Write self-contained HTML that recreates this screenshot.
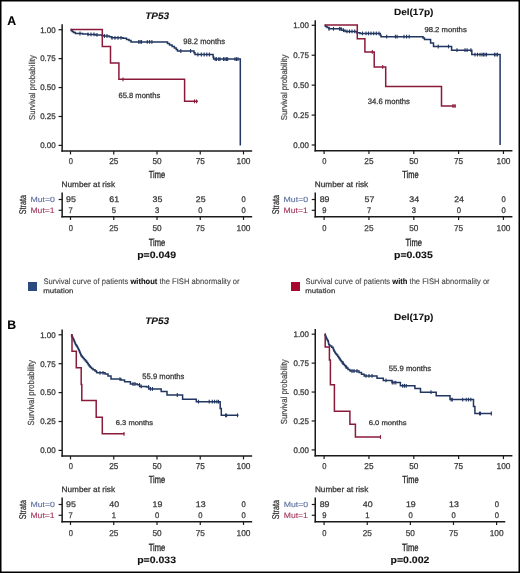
<!DOCTYPE html>
<html><head><meta charset="utf-8"><title>Survival curves</title>
<style>
html,body{margin:0;padding:0;background:#fff;}
body{width:520px;height:573px;overflow:hidden;}
svg{display:block;font-family:"Liberation Sans", sans-serif;will-change:transform;}
</style></head>
<body>
<svg width="520" height="573" viewBox="0 0 520 573" text-rendering="geometricPrecision">
<rect x="0" y="0" width="520" height="573" fill="#fff"/>
<text x="145.20" y="18.71" font-size="9.44" font-weight="bold" font-style="italic" fill="#111" stroke="#111" stroke-width="0.10" textLength="23.90" lengthAdjust="spacingAndGlyphs">TP53</text>
<line x1="62.15" y1="24.20" x2="62.15" y2="151.85" stroke="#1a1a1a" stroke-width="1.5"/>
<line x1="61.40" y1="151.10" x2="252.15" y2="151.10" stroke="#1a1a1a" stroke-width="1.5"/>
<line x1="58.55" y1="29.70" x2="62.15" y2="29.70" stroke="#1a1a1a" stroke-width="1.2"/>
<text x="40.16" y="32.52" font-size="8.17" fill="#3a3a3a" stroke="#3a3a3a" stroke-width="0.28" textLength="15.53" lengthAdjust="spacingAndGlyphs">1.00</text>
<line x1="58.55" y1="58.62" x2="62.15" y2="58.62" stroke="#1a1a1a" stroke-width="1.2"/>
<text x="40.16" y="61.44" font-size="8.17" fill="#3a3a3a" stroke="#3a3a3a" stroke-width="0.28" textLength="15.53" lengthAdjust="spacingAndGlyphs">0.75</text>
<line x1="58.55" y1="87.55" x2="62.15" y2="87.55" stroke="#1a1a1a" stroke-width="1.2"/>
<text x="40.16" y="90.37" font-size="8.17" fill="#3a3a3a" stroke="#3a3a3a" stroke-width="0.28" textLength="15.53" lengthAdjust="spacingAndGlyphs">0.50</text>
<line x1="58.55" y1="116.48" x2="62.15" y2="116.48" stroke="#1a1a1a" stroke-width="1.2"/>
<text x="40.16" y="119.29" font-size="8.17" fill="#3a3a3a" stroke="#3a3a3a" stroke-width="0.28" textLength="15.53" lengthAdjust="spacingAndGlyphs">0.25</text>
<line x1="58.55" y1="145.40" x2="62.15" y2="145.40" stroke="#1a1a1a" stroke-width="1.2"/>
<text x="40.16" y="148.22" font-size="8.17" fill="#3a3a3a" stroke="#3a3a3a" stroke-width="0.28" textLength="15.53" lengthAdjust="spacingAndGlyphs">0.00</text>
<line x1="70.50" y1="151.10" x2="70.50" y2="154.40" stroke="#1a1a1a" stroke-width="1.2"/>
<text x="68.70" y="164.31" font-size="8.59" fill="#3a3a3a" stroke="#3a3a3a" stroke-width="0.25" textLength="4.21" lengthAdjust="spacingAndGlyphs">0</text>
<line x1="113.75" y1="151.10" x2="113.75" y2="154.40" stroke="#1a1a1a" stroke-width="1.2"/>
<text x="109.17" y="164.31" font-size="8.59" fill="#3a3a3a" stroke="#3a3a3a" stroke-width="0.25" textLength="9.18" lengthAdjust="spacingAndGlyphs">25</text>
<line x1="157.00" y1="151.10" x2="157.00" y2="154.40" stroke="#1a1a1a" stroke-width="1.2"/>
<text x="152.42" y="164.31" font-size="8.59" fill="#3a3a3a" stroke="#3a3a3a" stroke-width="0.25" textLength="9.18" lengthAdjust="spacingAndGlyphs">50</text>
<line x1="200.25" y1="151.10" x2="200.25" y2="154.40" stroke="#1a1a1a" stroke-width="1.2"/>
<text x="195.67" y="164.31" font-size="8.59" fill="#3a3a3a" stroke="#3a3a3a" stroke-width="0.25" textLength="9.18" lengthAdjust="spacingAndGlyphs">75</text>
<line x1="243.50" y1="151.10" x2="243.50" y2="154.40" stroke="#1a1a1a" stroke-width="1.2"/>
<text x="236.55" y="164.31" font-size="8.59" fill="#3a3a3a" stroke="#3a3a3a" stroke-width="0.25" textLength="13.93" lengthAdjust="spacingAndGlyphs">100</text>
<text x="148.75" y="177.90" font-size="10.27" fill="#1e1e1e" stroke="#1e1e1e" stroke-width="0.30" textLength="16.29" lengthAdjust="spacingAndGlyphs">Time</text>
<text x="0" y="0" font-size="8.51" fill="#505050" stroke="#505050" stroke-width="0.25" textLength="64.81" lengthAdjust="spacingAndGlyphs" transform="translate(34.51,119.99) rotate(-90)">Survival probability</text>
<path d="M70.60,29.60H71.20V30.60H72.20V31.60H73.50V32.60H75.40V33.50H82.60V33.90H88.00V34.40H95.70V34.90H101.80V35.40H104.00V36.00H109.20V36.80H111.50V37.80H123.00V38.30H126.50V39.50H129.00V40.60H131.00V41.90H167.50V43.60H169.50V45.00H172.10V46.40H174.40V48.00H176.20V49.60H177.50V51.00H194.00V52.80H195.00V54.50H213.10V57.00H213.60V59.10H240.30V145.40" fill="none" stroke="#213660" stroke-width="1.5"/>
<path d="M70.60,29.60H102.30V46.50H110.50V62.90H118.90V79.30H184.60V101.30H197.80V101.30" fill="none" stroke="#8a1a3a" stroke-width="1.5"/>
<line x1="80.00" y1="31.60" x2="80.00" y2="35.40" stroke="#213660" stroke-width="1.1"/>
<line x1="88.00" y1="32.50" x2="88.00" y2="36.30" stroke="#213660" stroke-width="1.1"/>
<line x1="91.00" y1="32.50" x2="91.00" y2="36.30" stroke="#213660" stroke-width="1.1"/>
<line x1="94.00" y1="32.50" x2="94.00" y2="36.30" stroke="#213660" stroke-width="1.1"/>
<line x1="97.00" y1="33.00" x2="97.00" y2="36.80" stroke="#213660" stroke-width="1.1"/>
<line x1="104.50" y1="34.10" x2="104.50" y2="37.90" stroke="#213660" stroke-width="1.1"/>
<line x1="107.00" y1="34.10" x2="107.00" y2="37.90" stroke="#213660" stroke-width="1.1"/>
<line x1="112.00" y1="35.90" x2="112.00" y2="39.70" stroke="#213660" stroke-width="1.1"/>
<line x1="115.00" y1="35.90" x2="115.00" y2="39.70" stroke="#213660" stroke-width="1.1"/>
<line x1="118.00" y1="35.90" x2="118.00" y2="39.70" stroke="#213660" stroke-width="1.1"/>
<line x1="121.00" y1="35.90" x2="121.00" y2="39.70" stroke="#213660" stroke-width="1.1"/>
<line x1="138.70" y1="40.00" x2="138.70" y2="43.80" stroke="#213660" stroke-width="1.1"/>
<line x1="140.10" y1="40.00" x2="140.10" y2="43.80" stroke="#213660" stroke-width="1.1"/>
<line x1="141.50" y1="40.00" x2="141.50" y2="43.80" stroke="#213660" stroke-width="1.1"/>
<line x1="147.30" y1="40.00" x2="147.30" y2="43.80" stroke="#213660" stroke-width="1.1"/>
<line x1="149.60" y1="40.00" x2="149.60" y2="43.80" stroke="#213660" stroke-width="1.1"/>
<line x1="151.90" y1="40.00" x2="151.90" y2="43.80" stroke="#213660" stroke-width="1.1"/>
<line x1="180.80" y1="49.10" x2="180.80" y2="52.90" stroke="#213660" stroke-width="1.1"/>
<line x1="190.60" y1="49.10" x2="190.60" y2="52.90" stroke="#213660" stroke-width="1.1"/>
<line x1="197.90" y1="52.60" x2="197.90" y2="56.40" stroke="#213660" stroke-width="1.1"/>
<line x1="201.30" y1="52.60" x2="201.30" y2="56.40" stroke="#213660" stroke-width="1.1"/>
<line x1="204.20" y1="52.60" x2="204.20" y2="56.40" stroke="#213660" stroke-width="1.1"/>
<line x1="206.80" y1="52.60" x2="206.80" y2="56.40" stroke="#213660" stroke-width="1.1"/>
<line x1="209.40" y1="52.60" x2="209.40" y2="56.40" stroke="#213660" stroke-width="1.1"/>
<line x1="215.20" y1="57.20" x2="215.20" y2="61.00" stroke="#213660" stroke-width="1.1"/>
<line x1="216.50" y1="57.20" x2="216.50" y2="61.00" stroke="#213660" stroke-width="1.1"/>
<line x1="218.70" y1="57.20" x2="218.70" y2="61.00" stroke="#213660" stroke-width="1.1"/>
<line x1="220.00" y1="57.20" x2="220.00" y2="61.00" stroke="#213660" stroke-width="1.1"/>
<line x1="223.50" y1="57.20" x2="223.50" y2="61.00" stroke="#213660" stroke-width="1.1"/>
<line x1="225.00" y1="57.20" x2="225.00" y2="61.00" stroke="#213660" stroke-width="1.1"/>
<line x1="226.50" y1="57.20" x2="226.50" y2="61.00" stroke="#213660" stroke-width="1.1"/>
<line x1="227.70" y1="57.20" x2="227.70" y2="61.00" stroke="#213660" stroke-width="1.1"/>
<line x1="235.00" y1="57.20" x2="235.00" y2="61.00" stroke="#213660" stroke-width="1.1"/>
<line x1="236.50" y1="57.20" x2="236.50" y2="61.00" stroke="#213660" stroke-width="1.1"/>
<line x1="238.00" y1="57.20" x2="238.00" y2="61.00" stroke="#213660" stroke-width="1.1"/>
<line x1="123.00" y1="77.40" x2="123.00" y2="81.20" stroke="#8a1a3a" stroke-width="1.1"/>
<line x1="194.50" y1="99.40" x2="194.50" y2="103.20" stroke="#8a1a3a" stroke-width="1.1"/>
<line x1="196.60" y1="99.40" x2="196.60" y2="103.20" stroke="#8a1a3a" stroke-width="1.1"/>
<text x="183.32" y="44.02" font-size="7.84" fill="#333" stroke="#333" stroke-width="0.25" textLength="41.73" lengthAdjust="spacingAndGlyphs">98.2 months</text>
<text x="118.42" y="97.62" font-size="7.70" fill="#333" stroke="#333" stroke-width="0.25" textLength="41.83" lengthAdjust="spacingAndGlyphs">65.8 months</text>
<text x="61.64" y="186.92" font-size="7.84" fill="#333" stroke="#333" stroke-width="0.25" textLength="53.37" lengthAdjust="spacingAndGlyphs">Number at risk</text>
<line x1="62.15" y1="192.40" x2="62.15" y2="217.55" stroke="#1a1a1a" stroke-width="1.5"/>
<line x1="61.40" y1="216.80" x2="252.15" y2="216.80" stroke="#1a1a1a" stroke-width="1.5"/>
<line x1="58.65" y1="199.50" x2="62.15" y2="199.50" stroke="#1a1a1a" stroke-width="1.2"/>
<line x1="58.65" y1="210.30" x2="62.15" y2="210.30" stroke="#1a1a1a" stroke-width="1.2"/>
<text x="30.40" y="202.02" font-size="7.61" fill="#5d70a0" stroke="#5d70a0" stroke-width="0.12" textLength="24.52" lengthAdjust="spacingAndGlyphs">Mut=0</text>
<text x="30.41" y="212.62" font-size="7.75" fill="#a53a60" stroke="#a53a60" stroke-width="0.12" textLength="24.21" lengthAdjust="spacingAndGlyphs">Mut=1</text>
<text x="0" y="0" font-size="9.86" fill="#333" stroke="#333" stroke-width="0.25" textLength="19.14" lengthAdjust="spacingAndGlyphs" transform="translate(25.60,214.16) rotate(-90)">Strata</text>
<text x="66.06" y="202.02" font-size="8.17" fill="#333" stroke="#333" stroke-width="0.25" textLength="9.81" lengthAdjust="spacingAndGlyphs">95</text>
<text x="68.56" y="212.62" font-size="8.17" fill="#333" stroke="#333" stroke-width="0.25" textLength="4.25" lengthAdjust="spacingAndGlyphs">7</text>
<line x1="70.50" y1="216.80" x2="70.50" y2="219.90" stroke="#1a1a1a" stroke-width="1.2"/>
<text x="68.70" y="231.32" font-size="8.45" fill="#3a3a3a" stroke="#3a3a3a" stroke-width="0.25" textLength="4.21" lengthAdjust="spacingAndGlyphs">0</text>
<text x="109.31" y="202.02" font-size="8.17" fill="#333" stroke="#333" stroke-width="0.25" textLength="9.81" lengthAdjust="spacingAndGlyphs">61</text>
<text x="111.81" y="212.62" font-size="8.17" fill="#333" stroke="#333" stroke-width="0.25" textLength="4.25" lengthAdjust="spacingAndGlyphs">5</text>
<line x1="113.75" y1="216.80" x2="113.75" y2="219.90" stroke="#1a1a1a" stroke-width="1.2"/>
<text x="109.17" y="231.32" font-size="8.45" fill="#3a3a3a" stroke="#3a3a3a" stroke-width="0.25" textLength="9.18" lengthAdjust="spacingAndGlyphs">25</text>
<text x="152.56" y="202.02" font-size="8.17" fill="#333" stroke="#333" stroke-width="0.25" textLength="9.81" lengthAdjust="spacingAndGlyphs">35</text>
<text x="155.06" y="212.62" font-size="8.17" fill="#333" stroke="#333" stroke-width="0.25" textLength="4.25" lengthAdjust="spacingAndGlyphs">3</text>
<line x1="157.00" y1="216.80" x2="157.00" y2="219.90" stroke="#1a1a1a" stroke-width="1.2"/>
<text x="152.42" y="231.32" font-size="8.45" fill="#3a3a3a" stroke="#3a3a3a" stroke-width="0.25" textLength="9.18" lengthAdjust="spacingAndGlyphs">50</text>
<text x="195.81" y="202.02" font-size="8.17" fill="#333" stroke="#333" stroke-width="0.25" textLength="9.81" lengthAdjust="spacingAndGlyphs">25</text>
<text x="198.31" y="212.62" font-size="8.17" fill="#333" stroke="#333" stroke-width="0.25" textLength="4.25" lengthAdjust="spacingAndGlyphs">0</text>
<line x1="200.25" y1="216.80" x2="200.25" y2="219.90" stroke="#1a1a1a" stroke-width="1.2"/>
<text x="195.67" y="231.32" font-size="8.45" fill="#3a3a3a" stroke="#3a3a3a" stroke-width="0.25" textLength="9.18" lengthAdjust="spacingAndGlyphs">75</text>
<text x="241.56" y="202.02" font-size="8.17" fill="#333" stroke="#333" stroke-width="0.25" textLength="4.25" lengthAdjust="spacingAndGlyphs">0</text>
<text x="241.56" y="212.62" font-size="8.17" fill="#333" stroke="#333" stroke-width="0.25" textLength="4.25" lengthAdjust="spacingAndGlyphs">0</text>
<line x1="243.50" y1="216.80" x2="243.50" y2="219.90" stroke="#1a1a1a" stroke-width="1.2"/>
<text x="236.55" y="231.32" font-size="8.45" fill="#3a3a3a" stroke="#3a3a3a" stroke-width="0.25" textLength="13.93" lengthAdjust="spacingAndGlyphs">100</text>
<text x="148.65" y="245.50" font-size="10.41" fill="#1e1e1e" stroke="#1e1e1e" stroke-width="0.30" textLength="16.49" lengthAdjust="spacingAndGlyphs">Time</text>
<text x="137.21" y="257.54" font-size="9.34" font-weight="bold" fill="#111" stroke="#111" stroke-width="0.10" textLength="38.83" lengthAdjust="spacingAndGlyphs">p=0.049</text>
<text x="393.90" y="15.00" font-size="9.04" font-weight="bold" fill="#111" stroke="#111" stroke-width="0.10" textLength="39.56" lengthAdjust="spacingAndGlyphs">Del(17p)</text>
<line x1="315.25" y1="20.20" x2="315.25" y2="151.45" stroke="#1a1a1a" stroke-width="1.5"/>
<line x1="314.50" y1="150.70" x2="512.42" y2="150.70" stroke="#1a1a1a" stroke-width="1.5"/>
<line x1="311.65" y1="25.30" x2="315.25" y2="25.30" stroke="#1a1a1a" stroke-width="1.2"/>
<text x="293.36" y="28.12" font-size="8.17" fill="#3a3a3a" stroke="#3a3a3a" stroke-width="0.28" textLength="15.53" lengthAdjust="spacingAndGlyphs">1.00</text>
<line x1="311.65" y1="55.22" x2="315.25" y2="55.22" stroke="#1a1a1a" stroke-width="1.2"/>
<text x="293.36" y="58.04" font-size="8.17" fill="#3a3a3a" stroke="#3a3a3a" stroke-width="0.28" textLength="15.53" lengthAdjust="spacingAndGlyphs">0.75</text>
<line x1="311.65" y1="85.15" x2="315.25" y2="85.15" stroke="#1a1a1a" stroke-width="1.2"/>
<text x="293.36" y="87.97" font-size="8.17" fill="#3a3a3a" stroke="#3a3a3a" stroke-width="0.28" textLength="15.53" lengthAdjust="spacingAndGlyphs">0.50</text>
<line x1="311.65" y1="115.08" x2="315.25" y2="115.08" stroke="#1a1a1a" stroke-width="1.2"/>
<text x="293.36" y="117.89" font-size="8.17" fill="#3a3a3a" stroke="#3a3a3a" stroke-width="0.28" textLength="15.53" lengthAdjust="spacingAndGlyphs">0.25</text>
<line x1="311.65" y1="145.00" x2="315.25" y2="145.00" stroke="#1a1a1a" stroke-width="1.2"/>
<text x="293.36" y="147.82" font-size="8.17" fill="#3a3a3a" stroke="#3a3a3a" stroke-width="0.28" textLength="15.53" lengthAdjust="spacingAndGlyphs">0.00</text>
<line x1="324.10" y1="150.70" x2="324.10" y2="154.00" stroke="#1a1a1a" stroke-width="1.2"/>
<text x="322.30" y="164.01" font-size="8.59" fill="#3a3a3a" stroke="#3a3a3a" stroke-width="0.25" textLength="4.21" lengthAdjust="spacingAndGlyphs">0</text>
<line x1="368.94" y1="150.70" x2="368.94" y2="154.00" stroke="#1a1a1a" stroke-width="1.2"/>
<text x="364.36" y="164.01" font-size="8.59" fill="#3a3a3a" stroke="#3a3a3a" stroke-width="0.25" textLength="9.18" lengthAdjust="spacingAndGlyphs">25</text>
<line x1="413.78" y1="150.70" x2="413.78" y2="154.00" stroke="#1a1a1a" stroke-width="1.2"/>
<text x="409.19" y="164.01" font-size="8.59" fill="#3a3a3a" stroke="#3a3a3a" stroke-width="0.25" textLength="9.18" lengthAdjust="spacingAndGlyphs">50</text>
<line x1="458.61" y1="150.70" x2="458.61" y2="154.00" stroke="#1a1a1a" stroke-width="1.2"/>
<text x="454.03" y="164.01" font-size="8.59" fill="#3a3a3a" stroke="#3a3a3a" stroke-width="0.25" textLength="9.18" lengthAdjust="spacingAndGlyphs">75</text>
<line x1="503.45" y1="150.70" x2="503.45" y2="154.00" stroke="#1a1a1a" stroke-width="1.2"/>
<text x="496.50" y="164.01" font-size="8.59" fill="#3a3a3a" stroke="#3a3a3a" stroke-width="0.25" textLength="13.93" lengthAdjust="spacingAndGlyphs">100</text>
<text x="402.25" y="177.60" font-size="10.27" fill="#1e1e1e" stroke="#1e1e1e" stroke-width="0.30" textLength="16.29" lengthAdjust="spacingAndGlyphs">Time</text>
<text x="0" y="0" font-size="8.51" fill="#505050" stroke="#505050" stroke-width="0.25" textLength="65.61" lengthAdjust="spacingAndGlyphs" transform="translate(287.01,120.19) rotate(-90)">Survival probability</text>
<path d="M324.50,25.40H325.50V26.50H327.00V27.60H329.00V28.80H341.60V30.20H345.00V31.40H356.60V32.80H360.00V33.40H380.30V35.20H381.00V36.70H423.00V38.00H424.50V39.50H430.60V42.90H433.50V46.50H451.60V50.20H471.80V54.60H500.10V145.00" fill="none" stroke="#213660" stroke-width="1.5"/>
<path d="M324.50,25.00H357.30V38.80H364.90V51.90H374.20V66.90H385.70V86.60H441.50V106.00H455.80V106.00" fill="none" stroke="#8a1a3a" stroke-width="1.5"/>
<line x1="329.00" y1="26.90" x2="329.00" y2="30.70" stroke="#213660" stroke-width="1.1"/>
<line x1="333.50" y1="26.90" x2="333.50" y2="30.70" stroke="#213660" stroke-width="1.1"/>
<line x1="339.50" y1="26.90" x2="339.50" y2="30.70" stroke="#213660" stroke-width="1.1"/>
<line x1="341.00" y1="26.90" x2="341.00" y2="30.70" stroke="#213660" stroke-width="1.1"/>
<line x1="343.50" y1="28.30" x2="343.50" y2="32.10" stroke="#213660" stroke-width="1.1"/>
<line x1="347.00" y1="29.50" x2="347.00" y2="33.30" stroke="#213660" stroke-width="1.1"/>
<line x1="349.50" y1="29.50" x2="349.50" y2="33.30" stroke="#213660" stroke-width="1.1"/>
<line x1="352.00" y1="29.50" x2="352.00" y2="33.30" stroke="#213660" stroke-width="1.1"/>
<line x1="354.70" y1="29.50" x2="354.70" y2="33.30" stroke="#213660" stroke-width="1.1"/>
<line x1="362.50" y1="31.50" x2="362.50" y2="35.30" stroke="#213660" stroke-width="1.1"/>
<line x1="366.00" y1="31.50" x2="366.00" y2="35.30" stroke="#213660" stroke-width="1.1"/>
<line x1="368.50" y1="31.50" x2="368.50" y2="35.30" stroke="#213660" stroke-width="1.1"/>
<line x1="371.00" y1="31.50" x2="371.00" y2="35.30" stroke="#213660" stroke-width="1.1"/>
<line x1="373.70" y1="31.50" x2="373.70" y2="35.30" stroke="#213660" stroke-width="1.1"/>
<line x1="376.30" y1="31.50" x2="376.30" y2="35.30" stroke="#213660" stroke-width="1.1"/>
<line x1="379.00" y1="31.50" x2="379.00" y2="35.30" stroke="#213660" stroke-width="1.1"/>
<line x1="386.70" y1="34.80" x2="386.70" y2="38.60" stroke="#213660" stroke-width="1.1"/>
<line x1="395.40" y1="34.80" x2="395.40" y2="38.60" stroke="#213660" stroke-width="1.1"/>
<line x1="397.10" y1="34.80" x2="397.10" y2="38.60" stroke="#213660" stroke-width="1.1"/>
<line x1="404.00" y1="34.80" x2="404.00" y2="38.60" stroke="#213660" stroke-width="1.1"/>
<line x1="406.60" y1="34.80" x2="406.60" y2="38.60" stroke="#213660" stroke-width="1.1"/>
<line x1="409.20" y1="34.80" x2="409.20" y2="38.60" stroke="#213660" stroke-width="1.1"/>
<line x1="438.20" y1="44.60" x2="438.20" y2="48.40" stroke="#213660" stroke-width="1.1"/>
<line x1="448.50" y1="44.60" x2="448.50" y2="48.40" stroke="#213660" stroke-width="1.1"/>
<line x1="457.00" y1="48.30" x2="457.00" y2="52.10" stroke="#213660" stroke-width="1.1"/>
<line x1="465.00" y1="48.30" x2="465.00" y2="52.10" stroke="#213660" stroke-width="1.1"/>
<line x1="467.10" y1="48.30" x2="467.10" y2="52.10" stroke="#213660" stroke-width="1.1"/>
<line x1="470.90" y1="48.30" x2="470.90" y2="52.10" stroke="#213660" stroke-width="1.1"/>
<line x1="475.00" y1="52.70" x2="475.00" y2="56.50" stroke="#213660" stroke-width="1.1"/>
<line x1="477.50" y1="52.70" x2="477.50" y2="56.50" stroke="#213660" stroke-width="1.1"/>
<line x1="480.00" y1="52.70" x2="480.00" y2="56.50" stroke="#213660" stroke-width="1.1"/>
<line x1="482.00" y1="52.70" x2="482.00" y2="56.50" stroke="#213660" stroke-width="1.1"/>
<line x1="483.50" y1="52.70" x2="483.50" y2="56.50" stroke="#213660" stroke-width="1.1"/>
<line x1="485.00" y1="52.70" x2="485.00" y2="56.50" stroke="#213660" stroke-width="1.1"/>
<line x1="486.50" y1="52.70" x2="486.50" y2="56.50" stroke="#213660" stroke-width="1.1"/>
<line x1="494.50" y1="52.70" x2="494.50" y2="56.50" stroke="#213660" stroke-width="1.1"/>
<line x1="496.00" y1="52.70" x2="496.00" y2="56.50" stroke="#213660" stroke-width="1.1"/>
<line x1="497.50" y1="52.70" x2="497.50" y2="56.50" stroke="#213660" stroke-width="1.1"/>
<line x1="372.30" y1="50.00" x2="372.30" y2="53.80" stroke="#8a1a3a" stroke-width="1.1"/>
<line x1="382.70" y1="65.00" x2="382.70" y2="68.80" stroke="#8a1a3a" stroke-width="1.1"/>
<line x1="453.00" y1="104.10" x2="453.00" y2="107.90" stroke="#8a1a3a" stroke-width="1.1"/>
<line x1="455.00" y1="104.10" x2="455.00" y2="107.90" stroke="#8a1a3a" stroke-width="1.1"/>
<text x="424.42" y="31.93" font-size="7.16" fill="#333" stroke="#333" stroke-width="0.25" textLength="42.34" lengthAdjust="spacingAndGlyphs">98.2 months</text>
<text x="367.82" y="104.22" font-size="7.84" fill="#333" stroke="#333" stroke-width="0.25" textLength="42.14" lengthAdjust="spacingAndGlyphs">34.6 months</text>
<text x="314.84" y="186.92" font-size="7.84" fill="#333" stroke="#333" stroke-width="0.25" textLength="53.37" lengthAdjust="spacingAndGlyphs">Number at risk</text>
<line x1="315.25" y1="192.40" x2="315.25" y2="217.55" stroke="#1a1a1a" stroke-width="1.5"/>
<line x1="314.50" y1="216.80" x2="512.42" y2="216.80" stroke="#1a1a1a" stroke-width="1.5"/>
<line x1="311.75" y1="199.50" x2="315.25" y2="199.50" stroke="#1a1a1a" stroke-width="1.2"/>
<line x1="311.75" y1="210.30" x2="315.25" y2="210.30" stroke="#1a1a1a" stroke-width="1.2"/>
<text x="283.60" y="202.02" font-size="7.61" fill="#5d70a0" stroke="#5d70a0" stroke-width="0.12" textLength="24.52" lengthAdjust="spacingAndGlyphs">Mut=0</text>
<text x="283.61" y="212.62" font-size="7.75" fill="#a53a60" stroke="#a53a60" stroke-width="0.12" textLength="24.21" lengthAdjust="spacingAndGlyphs">Mut=1</text>
<text x="0" y="0" font-size="9.86" fill="#333" stroke="#333" stroke-width="0.25" textLength="19.14" lengthAdjust="spacingAndGlyphs" transform="translate(278.80,214.16) rotate(-90)">Strata</text>
<text x="319.66" y="202.02" font-size="8.17" fill="#333" stroke="#333" stroke-width="0.25" textLength="9.81" lengthAdjust="spacingAndGlyphs">89</text>
<text x="322.16" y="212.62" font-size="8.17" fill="#333" stroke="#333" stroke-width="0.25" textLength="4.25" lengthAdjust="spacingAndGlyphs">9</text>
<line x1="324.10" y1="216.80" x2="324.10" y2="219.90" stroke="#1a1a1a" stroke-width="1.2"/>
<text x="322.30" y="231.32" font-size="8.45" fill="#3a3a3a" stroke="#3a3a3a" stroke-width="0.25" textLength="4.21" lengthAdjust="spacingAndGlyphs">0</text>
<text x="364.50" y="202.02" font-size="8.17" fill="#333" stroke="#333" stroke-width="0.25" textLength="9.81" lengthAdjust="spacingAndGlyphs">57</text>
<text x="367.00" y="212.62" font-size="8.17" fill="#333" stroke="#333" stroke-width="0.25" textLength="4.25" lengthAdjust="spacingAndGlyphs">7</text>
<line x1="368.94" y1="216.80" x2="368.94" y2="219.90" stroke="#1a1a1a" stroke-width="1.2"/>
<text x="364.36" y="231.32" font-size="8.45" fill="#3a3a3a" stroke="#3a3a3a" stroke-width="0.25" textLength="9.18" lengthAdjust="spacingAndGlyphs">25</text>
<text x="409.33" y="202.02" font-size="8.17" fill="#333" stroke="#333" stroke-width="0.25" textLength="9.81" lengthAdjust="spacingAndGlyphs">34</text>
<text x="411.83" y="212.62" font-size="8.17" fill="#333" stroke="#333" stroke-width="0.25" textLength="4.25" lengthAdjust="spacingAndGlyphs">3</text>
<line x1="413.78" y1="216.80" x2="413.78" y2="219.90" stroke="#1a1a1a" stroke-width="1.2"/>
<text x="409.19" y="231.32" font-size="8.45" fill="#3a3a3a" stroke="#3a3a3a" stroke-width="0.25" textLength="9.18" lengthAdjust="spacingAndGlyphs">50</text>
<text x="454.17" y="202.02" font-size="8.17" fill="#333" stroke="#333" stroke-width="0.25" textLength="9.81" lengthAdjust="spacingAndGlyphs">24</text>
<text x="456.67" y="212.62" font-size="8.17" fill="#333" stroke="#333" stroke-width="0.25" textLength="4.25" lengthAdjust="spacingAndGlyphs">0</text>
<line x1="458.61" y1="216.80" x2="458.61" y2="219.90" stroke="#1a1a1a" stroke-width="1.2"/>
<text x="454.03" y="231.32" font-size="8.45" fill="#3a3a3a" stroke="#3a3a3a" stroke-width="0.25" textLength="9.18" lengthAdjust="spacingAndGlyphs">75</text>
<text x="501.51" y="202.02" font-size="8.17" fill="#333" stroke="#333" stroke-width="0.25" textLength="4.25" lengthAdjust="spacingAndGlyphs">0</text>
<text x="501.51" y="212.62" font-size="8.17" fill="#333" stroke="#333" stroke-width="0.25" textLength="4.25" lengthAdjust="spacingAndGlyphs">0</text>
<line x1="503.45" y1="216.80" x2="503.45" y2="219.90" stroke="#1a1a1a" stroke-width="1.2"/>
<text x="496.50" y="231.32" font-size="8.45" fill="#3a3a3a" stroke="#3a3a3a" stroke-width="0.25" textLength="13.93" lengthAdjust="spacingAndGlyphs">100</text>
<text x="405.42" y="245.50" font-size="10.41" fill="#1e1e1e" stroke="#1e1e1e" stroke-width="0.30" textLength="16.49" lengthAdjust="spacingAndGlyphs">Time</text>
<text x="393.99" y="257.54" font-size="9.34" font-weight="bold" fill="#111" stroke="#111" stroke-width="0.10" textLength="38.83" lengthAdjust="spacingAndGlyphs">p=0.035</text>
<text x="145.20" y="323.71" font-size="9.44" font-weight="bold" font-style="italic" fill="#111" stroke="#111" stroke-width="0.10" textLength="23.90" lengthAdjust="spacingAndGlyphs">TP53</text>
<line x1="62.15" y1="329.50" x2="62.15" y2="456.85" stroke="#1a1a1a" stroke-width="1.5"/>
<line x1="61.40" y1="456.10" x2="252.15" y2="456.10" stroke="#1a1a1a" stroke-width="1.5"/>
<line x1="58.55" y1="334.80" x2="62.15" y2="334.80" stroke="#1a1a1a" stroke-width="1.2"/>
<text x="40.16" y="337.62" font-size="8.17" fill="#3a3a3a" stroke="#3a3a3a" stroke-width="0.28" textLength="15.53" lengthAdjust="spacingAndGlyphs">1.00</text>
<line x1="58.55" y1="363.70" x2="62.15" y2="363.70" stroke="#1a1a1a" stroke-width="1.2"/>
<text x="40.16" y="366.52" font-size="8.17" fill="#3a3a3a" stroke="#3a3a3a" stroke-width="0.28" textLength="15.53" lengthAdjust="spacingAndGlyphs">0.75</text>
<line x1="58.55" y1="392.60" x2="62.15" y2="392.60" stroke="#1a1a1a" stroke-width="1.2"/>
<text x="40.16" y="395.42" font-size="8.17" fill="#3a3a3a" stroke="#3a3a3a" stroke-width="0.28" textLength="15.53" lengthAdjust="spacingAndGlyphs">0.50</text>
<line x1="58.55" y1="421.50" x2="62.15" y2="421.50" stroke="#1a1a1a" stroke-width="1.2"/>
<text x="40.16" y="424.32" font-size="8.17" fill="#3a3a3a" stroke="#3a3a3a" stroke-width="0.28" textLength="15.53" lengthAdjust="spacingAndGlyphs">0.25</text>
<line x1="58.55" y1="450.40" x2="62.15" y2="450.40" stroke="#1a1a1a" stroke-width="1.2"/>
<text x="40.16" y="453.22" font-size="8.17" fill="#3a3a3a" stroke="#3a3a3a" stroke-width="0.28" textLength="15.53" lengthAdjust="spacingAndGlyphs">0.00</text>
<line x1="70.50" y1="456.10" x2="70.50" y2="459.40" stroke="#1a1a1a" stroke-width="1.2"/>
<text x="68.70" y="469.21" font-size="8.59" fill="#3a3a3a" stroke="#3a3a3a" stroke-width="0.25" textLength="4.21" lengthAdjust="spacingAndGlyphs">0</text>
<line x1="113.75" y1="456.10" x2="113.75" y2="459.40" stroke="#1a1a1a" stroke-width="1.2"/>
<text x="109.17" y="469.21" font-size="8.59" fill="#3a3a3a" stroke="#3a3a3a" stroke-width="0.25" textLength="9.18" lengthAdjust="spacingAndGlyphs">25</text>
<line x1="157.00" y1="456.10" x2="157.00" y2="459.40" stroke="#1a1a1a" stroke-width="1.2"/>
<text x="152.42" y="469.21" font-size="8.59" fill="#3a3a3a" stroke="#3a3a3a" stroke-width="0.25" textLength="9.18" lengthAdjust="spacingAndGlyphs">50</text>
<line x1="200.25" y1="456.10" x2="200.25" y2="459.40" stroke="#1a1a1a" stroke-width="1.2"/>
<text x="195.67" y="469.21" font-size="8.59" fill="#3a3a3a" stroke="#3a3a3a" stroke-width="0.25" textLength="9.18" lengthAdjust="spacingAndGlyphs">75</text>
<line x1="243.50" y1="456.10" x2="243.50" y2="459.40" stroke="#1a1a1a" stroke-width="1.2"/>
<text x="236.55" y="469.21" font-size="8.59" fill="#3a3a3a" stroke="#3a3a3a" stroke-width="0.25" textLength="13.93" lengthAdjust="spacingAndGlyphs">100</text>
<text x="148.75" y="482.80" font-size="10.27" fill="#1e1e1e" stroke="#1e1e1e" stroke-width="0.30" textLength="16.29" lengthAdjust="spacingAndGlyphs">Time</text>
<text x="0" y="0" font-size="8.83" fill="#505050" stroke="#505050" stroke-width="0.25" textLength="65.41" lengthAdjust="spacingAndGlyphs" transform="translate(34.25,425.59) rotate(-90)">Survival probability</text>
<path d="M71.00,334.80H71.62V336.05H72.25V337.30H72.88V338.55H73.48V339.80H74.01V341.05H74.54V342.30H75.07V343.55H75.60V344.80H76.43V346.05H77.27V347.30H77.91V348.55H78.52V349.80H79.12V351.05H79.65V352.30H80.18V353.55H80.71V354.80H81.24V356.05H82.24V357.30H83.31V358.55H84.39V359.80H85.48V361.05H86.56V362.30H87.50V363.55H88.33V364.80H89.17V366.05H90.20V367.30H91.45V368.55H93.00V369.80H94.98V371.05H96.50V372.30H97.00V372.80H105.00V374.00H108.00V376.00H111.00V379.10H121.00V380.00H124.60V381.80H130.40V384.00H137.30V384.80H139.60V386.40H146.50V387.00H148.80V388.90H161.20V391.50H167.00V395.00H182.60V399.20H196.30V401.70H220.20V408.40H221.30V415.30H238.50V415.30" fill="none" stroke="#213660" stroke-width="1.5"/>
<path d="M71.00,334.80H72.00V351.30H76.30V367.70H81.20V384.60H81.80V400.60H96.20V417.30H102.30V433.80H124.30V433.80" fill="none" stroke="#8a1a3a" stroke-width="1.5"/>
<line x1="100.00" y1="370.90" x2="100.00" y2="374.70" stroke="#213660" stroke-width="1.1"/>
<line x1="103.00" y1="370.90" x2="103.00" y2="374.70" stroke="#213660" stroke-width="1.1"/>
<line x1="120.00" y1="377.20" x2="120.00" y2="381.00" stroke="#213660" stroke-width="1.1"/>
<line x1="133.00" y1="382.10" x2="133.00" y2="385.90" stroke="#213660" stroke-width="1.1"/>
<line x1="135.00" y1="382.10" x2="135.00" y2="385.90" stroke="#213660" stroke-width="1.1"/>
<line x1="139.50" y1="382.90" x2="139.50" y2="386.70" stroke="#213660" stroke-width="1.1"/>
<line x1="141.20" y1="384.50" x2="141.20" y2="388.30" stroke="#213660" stroke-width="1.1"/>
<line x1="148.50" y1="385.10" x2="148.50" y2="388.90" stroke="#213660" stroke-width="1.1"/>
<line x1="150.50" y1="387.00" x2="150.50" y2="390.80" stroke="#213660" stroke-width="1.1"/>
<line x1="152.50" y1="387.00" x2="152.50" y2="390.80" stroke="#213660" stroke-width="1.1"/>
<line x1="177.30" y1="393.10" x2="177.30" y2="396.90" stroke="#213660" stroke-width="1.1"/>
<line x1="198.50" y1="399.80" x2="198.50" y2="403.60" stroke="#213660" stroke-width="1.1"/>
<line x1="209.20" y1="399.80" x2="209.20" y2="403.60" stroke="#213660" stroke-width="1.1"/>
<line x1="212.30" y1="399.80" x2="212.30" y2="403.60" stroke="#213660" stroke-width="1.1"/>
<line x1="214.60" y1="399.80" x2="214.60" y2="403.60" stroke="#213660" stroke-width="1.1"/>
<line x1="216.90" y1="399.80" x2="216.90" y2="403.60" stroke="#213660" stroke-width="1.1"/>
<line x1="218.50" y1="399.80" x2="218.50" y2="403.60" stroke="#213660" stroke-width="1.1"/>
<line x1="225.60" y1="413.40" x2="225.60" y2="417.20" stroke="#213660" stroke-width="1.1"/>
<line x1="226.60" y1="413.40" x2="226.60" y2="417.20" stroke="#213660" stroke-width="1.1"/>
<line x1="237.50" y1="413.40" x2="237.50" y2="417.20" stroke="#213660" stroke-width="1.1"/>
<line x1="124.00" y1="431.90" x2="124.00" y2="435.70" stroke="#8a1a3a" stroke-width="1.1"/>
<text x="142.32" y="378.72" font-size="7.84" fill="#333" stroke="#333" stroke-width="0.25" textLength="42.14" lengthAdjust="spacingAndGlyphs">55.9 months</text>
<text x="115.86" y="425.43" font-size="6.89" fill="#333" stroke="#333" stroke-width="0.25" textLength="37.16" lengthAdjust="spacingAndGlyphs">6.3 months</text>
<text x="61.64" y="491.92" font-size="7.84" fill="#333" stroke="#333" stroke-width="0.25" textLength="53.37" lengthAdjust="spacingAndGlyphs">Number at risk</text>
<line x1="62.15" y1="497.40" x2="62.15" y2="522.55" stroke="#1a1a1a" stroke-width="1.5"/>
<line x1="61.40" y1="521.80" x2="252.15" y2="521.80" stroke="#1a1a1a" stroke-width="1.5"/>
<line x1="58.65" y1="504.50" x2="62.15" y2="504.50" stroke="#1a1a1a" stroke-width="1.2"/>
<line x1="58.65" y1="515.30" x2="62.15" y2="515.30" stroke="#1a1a1a" stroke-width="1.2"/>
<text x="30.40" y="507.02" font-size="7.61" fill="#5d70a0" stroke="#5d70a0" stroke-width="0.12" textLength="24.52" lengthAdjust="spacingAndGlyphs">Mut=0</text>
<text x="30.41" y="517.62" font-size="7.75" fill="#a53a60" stroke="#a53a60" stroke-width="0.12" textLength="24.21" lengthAdjust="spacingAndGlyphs">Mut=1</text>
<text x="0" y="0" font-size="9.86" fill="#333" stroke="#333" stroke-width="0.25" textLength="19.14" lengthAdjust="spacingAndGlyphs" transform="translate(25.60,519.16) rotate(-90)">Strata</text>
<text x="66.06" y="507.02" font-size="8.17" fill="#333" stroke="#333" stroke-width="0.25" textLength="9.81" lengthAdjust="spacingAndGlyphs">95</text>
<text x="68.56" y="517.62" font-size="8.17" fill="#333" stroke="#333" stroke-width="0.25" textLength="4.25" lengthAdjust="spacingAndGlyphs">7</text>
<line x1="70.50" y1="521.80" x2="70.50" y2="524.90" stroke="#1a1a1a" stroke-width="1.2"/>
<text x="68.70" y="536.32" font-size="8.45" fill="#3a3a3a" stroke="#3a3a3a" stroke-width="0.25" textLength="4.21" lengthAdjust="spacingAndGlyphs">0</text>
<text x="109.31" y="507.02" font-size="8.17" fill="#333" stroke="#333" stroke-width="0.25" textLength="9.81" lengthAdjust="spacingAndGlyphs">40</text>
<text x="111.81" y="517.62" font-size="8.17" fill="#333" stroke="#333" stroke-width="0.25" textLength="4.25" lengthAdjust="spacingAndGlyphs">1</text>
<line x1="113.75" y1="521.80" x2="113.75" y2="524.90" stroke="#1a1a1a" stroke-width="1.2"/>
<text x="109.17" y="536.32" font-size="8.45" fill="#3a3a3a" stroke="#3a3a3a" stroke-width="0.25" textLength="9.18" lengthAdjust="spacingAndGlyphs">25</text>
<text x="152.56" y="507.02" font-size="8.17" fill="#333" stroke="#333" stroke-width="0.25" textLength="9.81" lengthAdjust="spacingAndGlyphs">19</text>
<text x="155.06" y="517.62" font-size="8.17" fill="#333" stroke="#333" stroke-width="0.25" textLength="4.25" lengthAdjust="spacingAndGlyphs">0</text>
<line x1="157.00" y1="521.80" x2="157.00" y2="524.90" stroke="#1a1a1a" stroke-width="1.2"/>
<text x="152.42" y="536.32" font-size="8.45" fill="#3a3a3a" stroke="#3a3a3a" stroke-width="0.25" textLength="9.18" lengthAdjust="spacingAndGlyphs">50</text>
<text x="195.81" y="507.02" font-size="8.17" fill="#333" stroke="#333" stroke-width="0.25" textLength="9.81" lengthAdjust="spacingAndGlyphs">13</text>
<text x="198.31" y="517.62" font-size="8.17" fill="#333" stroke="#333" stroke-width="0.25" textLength="4.25" lengthAdjust="spacingAndGlyphs">0</text>
<line x1="200.25" y1="521.80" x2="200.25" y2="524.90" stroke="#1a1a1a" stroke-width="1.2"/>
<text x="195.67" y="536.32" font-size="8.45" fill="#3a3a3a" stroke="#3a3a3a" stroke-width="0.25" textLength="9.18" lengthAdjust="spacingAndGlyphs">75</text>
<text x="241.56" y="507.02" font-size="8.17" fill="#333" stroke="#333" stroke-width="0.25" textLength="4.25" lengthAdjust="spacingAndGlyphs">0</text>
<text x="241.56" y="517.62" font-size="8.17" fill="#333" stroke="#333" stroke-width="0.25" textLength="4.25" lengthAdjust="spacingAndGlyphs">0</text>
<line x1="243.50" y1="521.80" x2="243.50" y2="524.90" stroke="#1a1a1a" stroke-width="1.2"/>
<text x="236.55" y="536.32" font-size="8.45" fill="#3a3a3a" stroke="#3a3a3a" stroke-width="0.25" textLength="13.93" lengthAdjust="spacingAndGlyphs">100</text>
<text x="148.65" y="550.50" font-size="10.41" fill="#1e1e1e" stroke="#1e1e1e" stroke-width="0.30" textLength="16.49" lengthAdjust="spacingAndGlyphs">Time</text>
<text x="137.21" y="562.54" font-size="9.34" font-weight="bold" fill="#111" stroke="#111" stroke-width="0.10" textLength="38.83" lengthAdjust="spacingAndGlyphs">p=0.033</text>
<text x="393.90" y="320.00" font-size="9.04" font-weight="bold" fill="#111" stroke="#111" stroke-width="0.10" textLength="39.56" lengthAdjust="spacingAndGlyphs">Del(17p)</text>
<line x1="315.25" y1="328.90" x2="315.25" y2="456.55" stroke="#1a1a1a" stroke-width="1.5"/>
<line x1="314.50" y1="455.80" x2="512.42" y2="455.80" stroke="#1a1a1a" stroke-width="1.5"/>
<line x1="311.65" y1="334.20" x2="315.25" y2="334.20" stroke="#1a1a1a" stroke-width="1.2"/>
<text x="293.46" y="337.02" font-size="8.17" fill="#3a3a3a" stroke="#3a3a3a" stroke-width="0.28" textLength="15.53" lengthAdjust="spacingAndGlyphs">1.00</text>
<line x1="311.65" y1="363.12" x2="315.25" y2="363.12" stroke="#1a1a1a" stroke-width="1.2"/>
<text x="293.46" y="365.94" font-size="8.17" fill="#3a3a3a" stroke="#3a3a3a" stroke-width="0.28" textLength="15.53" lengthAdjust="spacingAndGlyphs">0.75</text>
<line x1="311.65" y1="392.05" x2="315.25" y2="392.05" stroke="#1a1a1a" stroke-width="1.2"/>
<text x="293.46" y="394.87" font-size="8.17" fill="#3a3a3a" stroke="#3a3a3a" stroke-width="0.28" textLength="15.53" lengthAdjust="spacingAndGlyphs">0.50</text>
<line x1="311.65" y1="420.97" x2="315.25" y2="420.97" stroke="#1a1a1a" stroke-width="1.2"/>
<text x="293.46" y="423.79" font-size="8.17" fill="#3a3a3a" stroke="#3a3a3a" stroke-width="0.28" textLength="15.53" lengthAdjust="spacingAndGlyphs">0.25</text>
<line x1="311.65" y1="449.90" x2="315.25" y2="449.90" stroke="#1a1a1a" stroke-width="1.2"/>
<text x="293.46" y="452.72" font-size="8.17" fill="#3a3a3a" stroke="#3a3a3a" stroke-width="0.28" textLength="15.53" lengthAdjust="spacingAndGlyphs">0.00</text>
<line x1="324.10" y1="455.80" x2="324.10" y2="459.10" stroke="#1a1a1a" stroke-width="1.2"/>
<text x="322.30" y="468.91" font-size="8.59" fill="#3a3a3a" stroke="#3a3a3a" stroke-width="0.25" textLength="4.21" lengthAdjust="spacingAndGlyphs">0</text>
<line x1="368.94" y1="455.80" x2="368.94" y2="459.10" stroke="#1a1a1a" stroke-width="1.2"/>
<text x="364.36" y="468.91" font-size="8.59" fill="#3a3a3a" stroke="#3a3a3a" stroke-width="0.25" textLength="9.18" lengthAdjust="spacingAndGlyphs">25</text>
<line x1="413.78" y1="455.80" x2="413.78" y2="459.10" stroke="#1a1a1a" stroke-width="1.2"/>
<text x="409.19" y="468.91" font-size="8.59" fill="#3a3a3a" stroke="#3a3a3a" stroke-width="0.25" textLength="9.18" lengthAdjust="spacingAndGlyphs">50</text>
<line x1="458.61" y1="455.80" x2="458.61" y2="459.10" stroke="#1a1a1a" stroke-width="1.2"/>
<text x="454.03" y="468.91" font-size="8.59" fill="#3a3a3a" stroke="#3a3a3a" stroke-width="0.25" textLength="9.18" lengthAdjust="spacingAndGlyphs">75</text>
<line x1="503.45" y1="455.80" x2="503.45" y2="459.10" stroke="#1a1a1a" stroke-width="1.2"/>
<text x="496.50" y="468.91" font-size="8.59" fill="#3a3a3a" stroke="#3a3a3a" stroke-width="0.25" textLength="13.93" lengthAdjust="spacingAndGlyphs">100</text>
<text x="402.25" y="482.50" font-size="10.27" fill="#1e1e1e" stroke="#1e1e1e" stroke-width="0.30" textLength="16.29" lengthAdjust="spacingAndGlyphs">Time</text>
<text x="0" y="0" font-size="8.72" fill="#505050" stroke="#505050" stroke-width="0.25" textLength="65.01" lengthAdjust="spacingAndGlyphs" transform="translate(287.17,424.29) rotate(-90)">Survival probability</text>
<path d="M324.60,334.30H325.16V335.60H325.72V336.90H326.28V338.20H326.91V339.50H327.58V340.80H328.25V342.10H328.53V343.40H328.78V344.70H329.76V346.00H331.68V347.30H332.99V348.60H333.54V349.90H334.11V351.20H334.85V352.50H335.59V353.80H336.62V355.10H337.71V356.40H338.68V357.70H339.49V359.00H340.31V360.30H341.17V361.60H342.26V362.90H343.35V364.20H344.44V365.50H345.53V366.80H346.70V368.10H348.00V369.40H349.86V370.70H350.50V371.00H359.00V372.40H361.50V374.20H364.20V375.90H377.00V378.20H383.30V380.40H392.00V382.60H400.40V385.80H414.90V388.50H420.50V392.20H436.20V395.70H450.00V399.60H473.50V406.50H474.90V413.50H491.50V413.50" fill="none" stroke="#213660" stroke-width="1.5"/>
<path d="M324.60,334.30H325.20V347.00H329.40V360.10H330.40V384.80H334.40V411.30H349.90V424.30H355.40V437.00H380.90V437.00" fill="none" stroke="#8a1a3a" stroke-width="1.5"/>
<line x1="343.00" y1="361.00" x2="343.00" y2="364.80" stroke="#213660" stroke-width="1.1"/>
<line x1="346.00" y1="364.90" x2="346.00" y2="368.70" stroke="#213660" stroke-width="1.1"/>
<line x1="352.00" y1="369.10" x2="352.00" y2="372.90" stroke="#213660" stroke-width="1.1"/>
<line x1="354.00" y1="369.10" x2="354.00" y2="372.90" stroke="#213660" stroke-width="1.1"/>
<line x1="357.00" y1="369.10" x2="357.00" y2="372.90" stroke="#213660" stroke-width="1.1"/>
<line x1="366.00" y1="374.00" x2="366.00" y2="377.80" stroke="#213660" stroke-width="1.1"/>
<line x1="369.00" y1="374.00" x2="369.00" y2="377.80" stroke="#213660" stroke-width="1.1"/>
<line x1="372.00" y1="374.00" x2="372.00" y2="377.80" stroke="#213660" stroke-width="1.1"/>
<line x1="386.00" y1="378.50" x2="386.00" y2="382.30" stroke="#213660" stroke-width="1.1"/>
<line x1="392.30" y1="380.70" x2="392.30" y2="384.50" stroke="#213660" stroke-width="1.1"/>
<line x1="394.00" y1="380.70" x2="394.00" y2="384.50" stroke="#213660" stroke-width="1.1"/>
<line x1="395.80" y1="380.70" x2="395.80" y2="384.50" stroke="#213660" stroke-width="1.1"/>
<line x1="402.70" y1="383.90" x2="402.70" y2="387.70" stroke="#213660" stroke-width="1.1"/>
<line x1="404.50" y1="383.90" x2="404.50" y2="387.70" stroke="#213660" stroke-width="1.1"/>
<line x1="406.20" y1="383.90" x2="406.20" y2="387.70" stroke="#213660" stroke-width="1.1"/>
<line x1="431.00" y1="390.30" x2="431.00" y2="394.10" stroke="#213660" stroke-width="1.1"/>
<line x1="451.20" y1="397.70" x2="451.20" y2="401.50" stroke="#213660" stroke-width="1.1"/>
<line x1="452.30" y1="397.70" x2="452.30" y2="401.50" stroke="#213660" stroke-width="1.1"/>
<line x1="462.70" y1="397.70" x2="462.70" y2="401.50" stroke="#213660" stroke-width="1.1"/>
<line x1="466.20" y1="397.70" x2="466.20" y2="401.50" stroke="#213660" stroke-width="1.1"/>
<line x1="468.50" y1="397.70" x2="468.50" y2="401.50" stroke="#213660" stroke-width="1.1"/>
<line x1="470.80" y1="397.70" x2="470.80" y2="401.50" stroke="#213660" stroke-width="1.1"/>
<line x1="479.50" y1="411.60" x2="479.50" y2="415.40" stroke="#213660" stroke-width="1.1"/>
<line x1="480.50" y1="411.60" x2="480.50" y2="415.40" stroke="#213660" stroke-width="1.1"/>
<line x1="491.30" y1="411.60" x2="491.30" y2="415.40" stroke="#213660" stroke-width="1.1"/>
<line x1="380.50" y1="435.10" x2="380.50" y2="438.90" stroke="#8a1a3a" stroke-width="1.1"/>
<text x="388.82" y="371.12" font-size="7.70" fill="#333" stroke="#333" stroke-width="0.25" textLength="42.24" lengthAdjust="spacingAndGlyphs">55.9 months</text>
<text x="368.66" y="424.83" font-size="6.76" fill="#333" stroke="#333" stroke-width="0.25" textLength="37.87" lengthAdjust="spacingAndGlyphs">6.0 months</text>
<text x="314.94" y="491.92" font-size="7.84" fill="#333" stroke="#333" stroke-width="0.25" textLength="53.37" lengthAdjust="spacingAndGlyphs">Number at risk</text>
<line x1="315.25" y1="497.40" x2="315.25" y2="522.55" stroke="#1a1a1a" stroke-width="1.5"/>
<line x1="314.50" y1="521.80" x2="505.23" y2="521.80" stroke="#1a1a1a" stroke-width="1.5"/>
<line x1="311.75" y1="504.50" x2="315.25" y2="504.50" stroke="#1a1a1a" stroke-width="1.2"/>
<line x1="311.75" y1="515.30" x2="315.25" y2="515.30" stroke="#1a1a1a" stroke-width="1.2"/>
<text x="283.70" y="507.02" font-size="7.61" fill="#5d70a0" stroke="#5d70a0" stroke-width="0.12" textLength="24.52" lengthAdjust="spacingAndGlyphs">Mut=0</text>
<text x="283.71" y="517.62" font-size="7.75" fill="#a53a60" stroke="#a53a60" stroke-width="0.12" textLength="24.21" lengthAdjust="spacingAndGlyphs">Mut=1</text>
<text x="0" y="0" font-size="9.86" fill="#333" stroke="#333" stroke-width="0.25" textLength="19.14" lengthAdjust="spacingAndGlyphs" transform="translate(278.90,519.16) rotate(-90)">Strata</text>
<text x="319.66" y="507.02" font-size="8.17" fill="#333" stroke="#333" stroke-width="0.25" textLength="9.81" lengthAdjust="spacingAndGlyphs">89</text>
<text x="322.16" y="517.62" font-size="8.17" fill="#333" stroke="#333" stroke-width="0.25" textLength="4.25" lengthAdjust="spacingAndGlyphs">9</text>
<line x1="324.10" y1="521.80" x2="324.10" y2="524.90" stroke="#1a1a1a" stroke-width="1.2"/>
<text x="322.30" y="536.32" font-size="8.45" fill="#3a3a3a" stroke="#3a3a3a" stroke-width="0.25" textLength="4.21" lengthAdjust="spacingAndGlyphs">0</text>
<text x="362.78" y="507.02" font-size="8.17" fill="#333" stroke="#333" stroke-width="0.25" textLength="9.81" lengthAdjust="spacingAndGlyphs">40</text>
<text x="365.28" y="517.62" font-size="8.17" fill="#333" stroke="#333" stroke-width="0.25" textLength="4.25" lengthAdjust="spacingAndGlyphs">1</text>
<line x1="367.23" y1="521.80" x2="367.23" y2="524.90" stroke="#1a1a1a" stroke-width="1.2"/>
<text x="362.64" y="536.32" font-size="8.45" fill="#3a3a3a" stroke="#3a3a3a" stroke-width="0.25" textLength="9.18" lengthAdjust="spacingAndGlyphs">25</text>
<text x="405.91" y="507.02" font-size="8.17" fill="#333" stroke="#333" stroke-width="0.25" textLength="9.81" lengthAdjust="spacingAndGlyphs">19</text>
<text x="408.41" y="517.62" font-size="8.17" fill="#333" stroke="#333" stroke-width="0.25" textLength="4.25" lengthAdjust="spacingAndGlyphs">0</text>
<line x1="410.35" y1="521.80" x2="410.35" y2="524.90" stroke="#1a1a1a" stroke-width="1.2"/>
<text x="405.77" y="536.32" font-size="8.45" fill="#3a3a3a" stroke="#3a3a3a" stroke-width="0.25" textLength="9.18" lengthAdjust="spacingAndGlyphs">50</text>
<text x="449.03" y="507.02" font-size="8.17" fill="#333" stroke="#333" stroke-width="0.25" textLength="9.81" lengthAdjust="spacingAndGlyphs">13</text>
<text x="451.53" y="517.62" font-size="8.17" fill="#333" stroke="#333" stroke-width="0.25" textLength="4.25" lengthAdjust="spacingAndGlyphs">0</text>
<line x1="453.48" y1="521.80" x2="453.48" y2="524.90" stroke="#1a1a1a" stroke-width="1.2"/>
<text x="448.89" y="536.32" font-size="8.45" fill="#3a3a3a" stroke="#3a3a3a" stroke-width="0.25" textLength="9.18" lengthAdjust="spacingAndGlyphs">75</text>
<text x="494.66" y="507.02" font-size="8.17" fill="#333" stroke="#333" stroke-width="0.25" textLength="4.25" lengthAdjust="spacingAndGlyphs">0</text>
<text x="494.66" y="517.62" font-size="8.17" fill="#333" stroke="#333" stroke-width="0.25" textLength="4.25" lengthAdjust="spacingAndGlyphs">0</text>
<line x1="496.60" y1="521.80" x2="496.60" y2="524.90" stroke="#1a1a1a" stroke-width="1.2"/>
<text x="489.65" y="536.32" font-size="8.45" fill="#3a3a3a" stroke="#3a3a3a" stroke-width="0.25" textLength="13.93" lengthAdjust="spacingAndGlyphs">100</text>
<text x="402.00" y="550.50" font-size="10.41" fill="#1e1e1e" stroke="#1e1e1e" stroke-width="0.30" textLength="16.49" lengthAdjust="spacingAndGlyphs">Time</text>
<text x="390.56" y="562.54" font-size="9.34" font-weight="bold" fill="#111" stroke="#111" stroke-width="0.10" textLength="38.83" lengthAdjust="spacingAndGlyphs">p=0.002</text>
<text x="7.33" y="24.73" font-size="12.65" font-weight="bold" fill="#000" stroke="#000" stroke-width="0.10" textLength="8.86" lengthAdjust="spacingAndGlyphs">A</text>
<text x="7.24" y="329.30" font-size="12.46" font-weight="bold" fill="#000" stroke="#000" stroke-width="0.10" textLength="8.88" lengthAdjust="spacingAndGlyphs">B</text>
<rect x="28" y="282" width="9" height="9" fill="#2b4b80"/>
<rect x="291" y="282" width="9" height="9" fill="#a8082f"/>
<text x="43.52" y="284.20" font-size="8.09" fill="#444" stroke="#444" stroke-width="0.10" textLength="196.07" lengthAdjust="spacingAndGlyphs">Survival curve of patients <tspan font-weight="bold" fill="#111" stroke="#111" stroke-width="0.1">without</tspan> the FISH abnormality or</text>
<text x="305.42" y="284.20" font-size="8.09" fill="#444" stroke="#444" stroke-width="0.10" textLength="184.23" lengthAdjust="spacingAndGlyphs">Survival curve of patients <tspan font-weight="bold" fill="#111" stroke="#111" stroke-width="0.1">with</tspan> the FISH abnormality or</text>
<text x="43.35" y="292.83" font-size="6.62" fill="#444" stroke="#444" stroke-width="0.25" textLength="30.06" lengthAdjust="spacingAndGlyphs">mutation</text>
<text x="305.25" y="292.83" font-size="6.62" fill="#444" stroke="#444" stroke-width="0.25" textLength="30.06" lengthAdjust="spacingAndGlyphs">mutation</text>
<rect x="0.75" y="0.75" width="518.5" height="571.5" fill="none" stroke="#000" stroke-width="1.5"/>
</svg>
</body></html>
